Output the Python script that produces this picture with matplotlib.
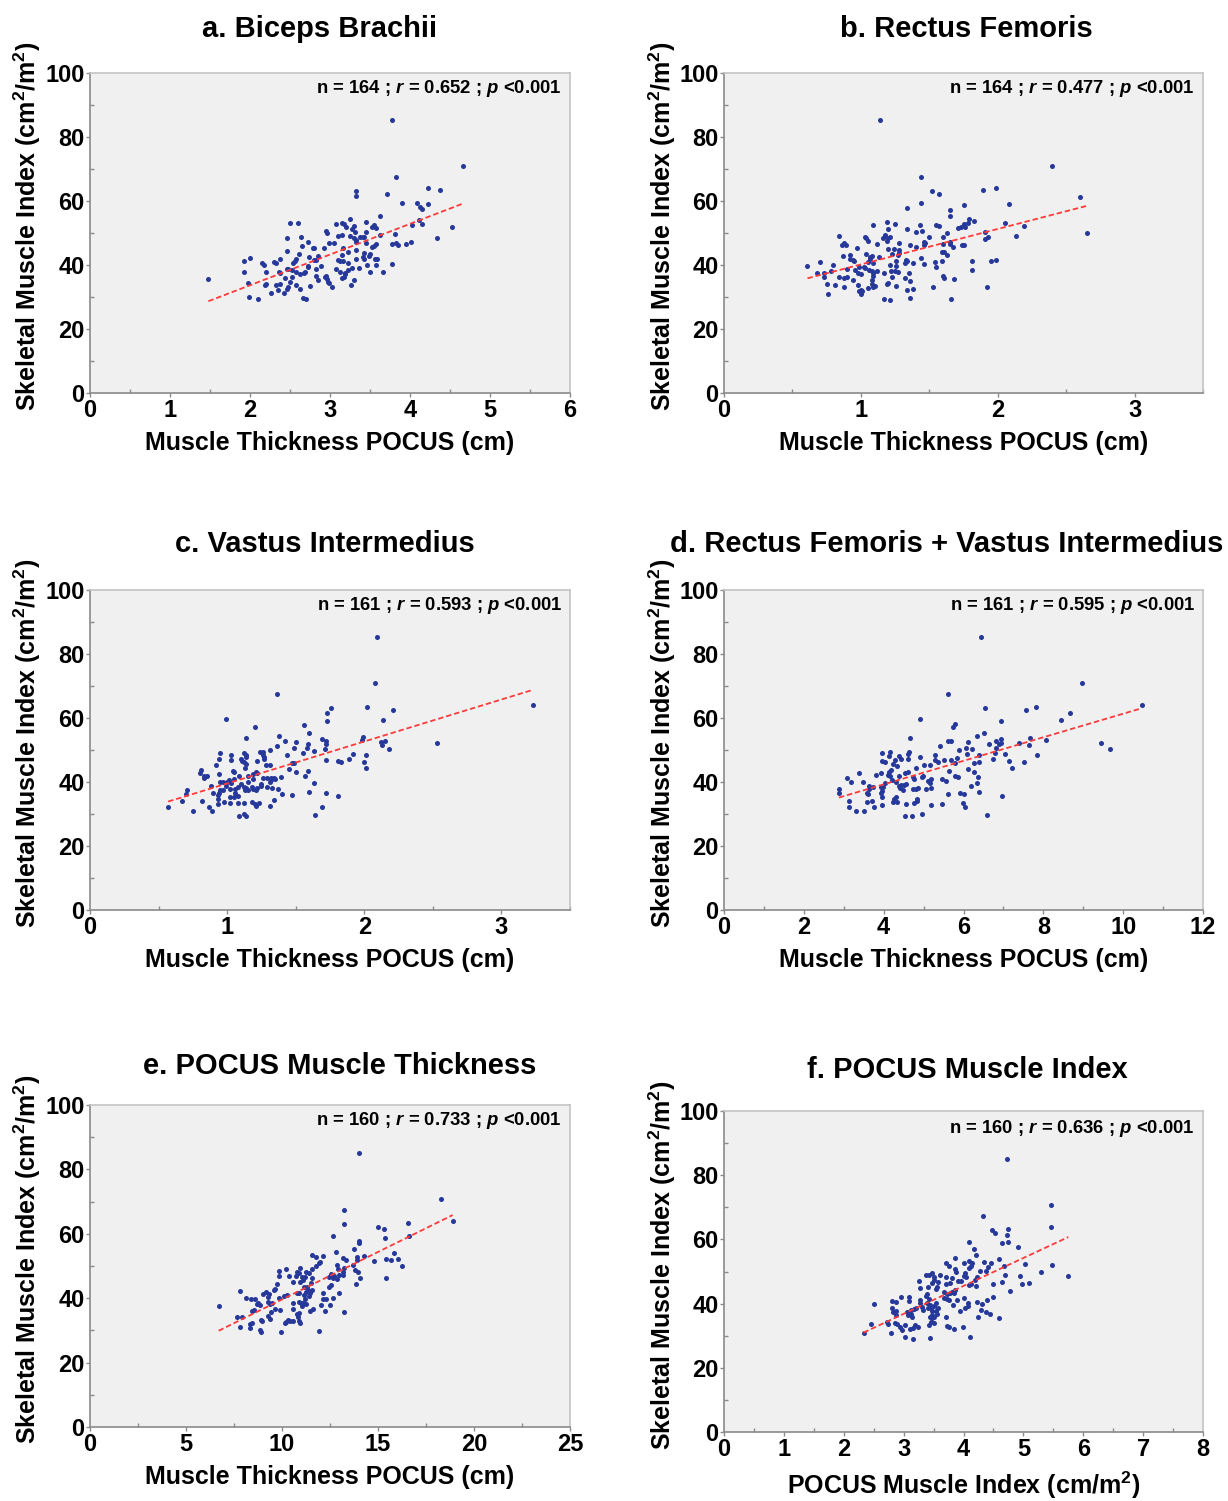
import numpy as np
import matplotlib
matplotlib.use("Agg")
import matplotlib.pyplot as plt
from matplotlib.ticker import MultipleLocator

plt.rcParams['font.family'] = 'Liberation Sans'
plt.rcParams['font.weight'] = 'bold'
plt.rcParams['mathtext.fontset'] = 'custom'
plt.rcParams['mathtext.rm'] = 'Liberation Sans:bold'
plt.rcParams['mathtext.it'] = 'Liberation Sans:italic:bold'
plt.rcParams['mathtext.bf'] = 'Liberation Sans:bold'

# ---- data (x = POCUS measure, y = SMI) ----
a_pts = [(3.77, 85.3), (4.66, 71.0), (3.83, 67.5), (4.22, 64.0), (4.38, 63.4), (3.33, 63.2), (3.33, 61.6),
         (3.71, 62.3), (3.90, 59.5), (4.09, 59.3), (4.23, 59.1), (4.12, 58.0), (4.15, 57.4), (3.63, 55.4),
         (4.11, 54.0), (4.15, 52.8), (4.03, 52.4), (4.53, 52.0), (4.34, 48.5), (4.01, 47.3), (3.95, 46.5),
         (3.81, 49.6), (3.78, 46.5), (3.82, 47.0), (3.85, 46.3), (3.78, 40.3), (3.63, 49.4), (3.66, 37.9),
         (3.58, 51.6), (3.55, 52.6), (3.52, 51.9), (3.45, 53.5), (3.25, 54.5), (3.15, 53.2), (3.18, 52.8),
         (3.20, 52.0), (3.07, 52.8), (3.30, 52.3), (3.28, 51.2), (3.31, 50.2), (3.25, 49.2), (3.15, 49.4),
         (3.10, 49.1), (2.95, 50.6), (2.96, 49.9), (3.30, 48.3), (3.32, 47.8), (3.33, 47.3), (3.38, 48.9),
         (3.41, 48.6), (3.43, 48.7), (3.45, 50.4), (3.45, 46.8), (3.52, 45.5), (3.55, 46.0), (3.57, 46.6),
         (3.05, 47.0), (2.99, 46.8), (2.93, 45.4), (3.16, 45.2), (3.22, 44.2), (3.32, 44.7), (3.42, 43.6),
         (3.50, 43.4), (3.49, 42.8), (3.41, 42.6), (3.43, 41.9), (3.33, 41.8), (3.15, 43.0), (3.10, 41.6),
         (3.13, 41.2), (3.16, 41.1), (3.23, 40.7), (3.46, 40.0), (3.56, 41.8), (3.59, 41.8), (3.58, 40.0),
         (3.50, 37.7), (3.36, 39.0), (3.28, 39.2), (3.23, 38.4), (3.19, 37.6), (3.19, 37.2), (3.13, 37.8),
         (3.08, 38.7), (3.30, 35.3), (3.26, 33.6), (3.15, 36.0), (3.18, 36.4), (2.95, 36.7), (2.94, 36.2),
         (2.96, 35.7), (2.97, 34.7), (2.99, 34.3), (3.03, 33.0), (2.83, 36.7), (2.85, 35.2), (2.75, 33.4),
         (2.89, 39.6), (2.83, 38.9), (2.72, 39.8), (2.73, 39.4), (2.80, 41.6), (2.83, 41.6), (2.85, 42.9),
         (2.74, 42.6), (2.79, 45.4), (2.80, 45.2), (2.73, 47.1), (2.65, 46.0), (2.64, 48.8), (2.60, 53.1),
         (2.50, 53.0), (2.46, 48.4), (2.46, 44.5), (2.61, 43.3), (2.58, 41.8), (2.56, 41.2), (2.54, 40.5),
         (2.69, 37.7), (2.67, 37.4), (2.63, 37.2), (2.58, 37.8), (2.52, 38.5), (2.48, 38.6), (2.46, 38.6),
         (2.52, 36.4), (2.50, 34.8), (2.57, 33.7), (2.48, 33.2), (2.46, 32.5), (2.42, 31.2), (2.62, 32.4),
         (2.66, 29.8), (2.70, 29.5), (2.38, 41.9), (2.33, 40.5), (2.30, 41.0), (2.36, 37.8), (2.37, 37.4),
         (2.44, 36.0), (2.38, 34.2), (2.33, 33.7), (2.35, 32.2), (2.26, 31.2), (2.20, 37.9), (2.15, 40.5),
         (2.18, 40.0), (2.20, 34.1), (2.19, 33.6), (2.00, 42.3), (1.92, 41.1), (1.92, 37.7), (1.98, 34.3),
         (1.99, 30.1), (2.10, 29.3), (1.48, 35.6)]

b_pts = [(1.14, 85.3), (2.40, 71.0), (1.44, 67.4), (1.52, 63.0), (1.57, 62.2), (1.89, 63.4), (1.99, 64.0),
         (2.60, 61.4), (2.08, 59.2), (1.44, 59.3), (1.34, 57.7), (1.75, 58.7), (1.65, 57.2), (1.65, 55.2),
         (1.79, 54.5), (1.83, 53.9), (1.78, 53.1), (1.75, 52.7), (1.73, 51.9), (1.71, 51.5), (1.76, 51.9),
         (2.05, 53.0), (2.19, 52.1), (1.91, 50.3), (2.13, 49.1), (1.93, 48.7), (1.91, 48.2), (1.75, 46.4),
         (1.74, 46.2), (2.65, 50.1), (1.95, 41.4), (1.99, 41.6), (1.81, 41.1), (1.81, 38.4), (1.92, 33.2),
         (1.66, 29.5), (1.68, 35.6), (1.60, 36.7), (1.61, 36.0), (1.53, 33.0), (1.59, 41.2), (1.54, 40.8),
         (1.55, 39.5), (1.59, 44.2), (1.61, 44.0), (1.63, 43.1), (1.60, 46.7), (1.60, 48.8), (1.63, 49.9),
         (1.65, 47.1), (1.65, 46.6), (1.67, 45.7), (1.55, 52.4), (1.57, 52.2), (1.50, 48.8), (1.46, 47.3),
         (1.47, 46.8), (1.46, 46.1), (1.43, 52.6), (1.40, 50.2), (1.45, 50.5), (1.34, 51.1), (1.36, 46.1),
         (1.40, 45.7), (1.44, 42.2), (1.46, 40.2), (1.38, 40.7), (1.33, 41.6), (1.34, 41.1), (1.32, 40.7),
         (1.28, 46.8), (1.28, 44.7), (1.28, 43.9), (1.27, 43.1), (1.24, 45.0), (1.23, 43.3), (1.25, 52.8),
         (1.19, 53.4), (1.20, 51.4), (1.21, 48.9), (1.20, 48.4), (1.18, 49.4), (1.16, 48.5), (1.19, 47.5),
         (1.12, 46.7), (1.20, 45.1), (1.13, 42.4), (1.09, 52.6), (1.04, 48.3), (1.03, 48.9), (1.05, 47.6),
         (0.97, 45.4), (0.89, 46.2), (0.86, 46.4), (0.88, 46.8), (0.84, 49.2), (0.87, 42.8), (0.92, 43.0),
         (0.92, 41.8), (0.95, 41.2), (0.94, 41.6), (1.04, 43.4), (1.07, 42.6), (1.08, 42.8), (1.07, 41.9),
         (1.05, 40.8), (1.09, 40.5), (0.99, 39.5), (1.02, 39.5), (1.03, 39.0), (1.06, 38.4), (1.08, 38.1),
         (1.09, 37.4), (1.09, 36.7), (1.12, 38.2), (1.17, 37.6), (1.21, 40.0), (1.22, 38.0), (1.25, 38.1),
         (1.26, 39.8), (1.26, 41.1), (1.27, 37.7), (1.23, 36.4), (1.20, 34.4), (1.19, 34.0), (1.26, 33.4),
         (1.32, 35.8), (1.36, 35.0), (1.35, 37.6), (1.34, 32.1), (1.38, 32.5), (1.36, 29.8), (1.17, 29.3),
         (1.21, 29.1), (1.08, 35.3), (1.08, 34.2), (1.09, 33.0), (1.10, 33.4), (1.05, 32.8), (1.00, 32.1),
         (0.99, 32.0), (1.00, 30.9), (1.01, 32.0), (0.98, 33.6), (0.94, 35.2), (0.98, 37.6), (0.96, 38.4),
         (1.00, 37.1), (0.90, 38.7), (0.90, 36.3), (0.88, 35.9), (0.84, 36.2), (0.88, 33.1), (0.81, 33.7),
         (0.75, 34.0), (0.76, 31.0), (0.73, 37.4), (0.73, 36.4), (0.68, 37.6), (0.78, 38.2), (0.80, 40.0),
         (0.70, 40.9), (0.61, 39.8)]

c_pts = [(2.09, 85.4), (2.08, 71.0), (1.36, 67.6), (2.02, 63.4), (2.21, 62.4), (1.76, 63.2), (1.73, 61.6),
         (1.73, 59.0), (2.14, 59.4), (0.99, 59.6), (1.20, 57.3), (1.56, 57.9), (1.60, 55.4), (1.38, 54.5),
         (1.14, 53.8), (1.42, 52.8), (1.50, 52.6), (1.36, 51.4), (1.31, 50.1), (1.69, 53.3), (1.72, 52.8),
         (1.72, 51.9), (1.71, 50.3), (1.59, 51.9), (1.58, 50.7), (1.49, 50.5), (1.63, 49.6), (1.55, 49.0),
         (1.44, 48.5), (1.99, 54.0), (1.98, 53.1), (2.12, 52.4), (2.13, 51.5), (2.15, 52.9), (2.18, 50.2),
         (2.53, 52.3), (1.92, 48.8), (1.89, 47.3), (2.01, 48.4), (2.00, 46.4), (2.01, 44.5), (1.81, 46.6),
         (1.83, 46.2), (1.72, 46.9), (1.47, 45.8), (1.49, 45.8), (1.45, 44.2), (1.50, 43.2), (1.59, 43.5),
         (1.57, 41.9), (1.63, 39.6), (1.60, 37.0), (1.72, 36.6), (1.81, 35.7), (1.69, 32.2), (1.64, 29.7),
         (1.47, 36.0), (1.40, 36.3), (1.34, 34.4), (1.37, 37.7), (1.33, 38.0), (1.29, 38.5), (1.39, 41.5),
         (1.35, 40.8), (1.34, 41.3), (1.32, 40.6), (1.31, 40.0), (1.32, 41.1), (1.29, 41.2), (1.26, 41.1),
         (1.25, 39.3), (1.25, 38.9), (1.22, 38.0), (1.21, 37.5), (1.24, 49.3), (1.26, 49.3), (1.27, 47.9),
         (1.27, 47.2), (1.26, 48.5), (1.28, 45.3), (1.31, 45.3), (1.22, 46.6), (1.21, 43.0), (1.19, 42.5),
         (1.22, 42.7), (1.19, 41.0), (1.15, 41.9), (1.15, 40.1), (1.12, 49.2), (1.14, 48.4), (1.14, 47.9),
         (1.10, 47.1), (1.11, 46.7), (1.12, 46.3), (1.14, 45.6), (1.13, 44.5), (1.03, 48.3), (1.03, 46.9),
         (1.04, 43.4), (1.05, 43.1), (0.94, 47.2), (0.95, 49.0), (0.92, 45.2), (0.94, 42.6), (1.01, 40.6),
         (1.00, 39.9), (0.97, 40.0), (0.95, 40.1), (1.05, 41.0), (1.03, 39.6), (1.09, 41.9), (1.10, 39.5),
         (1.12, 38.5), (1.14, 38.0), (1.15, 37.5), (1.13, 37.5), (1.08, 38.4), (1.06, 37.8), (1.02, 37.8),
         (0.99, 38.8), (0.95, 37.6), (0.97, 37.4), (1.18, 38.5), (1.19, 37.8), (1.06, 36.6), (1.08, 35.5),
         (1.05, 35.3), (1.02, 35.3), (1.02, 33.5), (0.98, 33.9), (0.94, 36.5), (0.93, 36.0), (0.90, 36.6),
         (0.88, 38.6), (0.93, 34.6), (0.93, 33.0), (1.08, 33.4), (1.12, 33.4), (1.18, 33.8), (1.20, 33.0),
         (1.21, 32.6), (1.23, 33.3), (1.31, 32.6), (1.09, 29.5), (1.12, 30.0), (1.14, 29.3), (0.87, 32.1),
         (0.89, 31.0), (0.82, 34.1), (0.75, 31.0), (0.67, 34.2), (0.71, 37.5), (0.70, 36.4), (0.80, 42.9),
         (0.81, 43.6), (0.83, 42.0), (0.85, 42.0), (0.83, 41.1), (0.57, 32.3), (3.23, 64.0)]

d_pts = [(6.44, 85.4), (8.97, 71.0), (5.61, 67.6), (10.46, 64.1), (6.55, 63.1), (7.57, 62.4), (7.82, 63.4),
         (8.66, 61.6), (8.45, 59.4), (6.94, 59.1), (4.90, 59.6), (5.78, 58.0), (5.73, 57.3), (6.52, 55.4),
         (6.35, 54.5), (4.66, 53.8), (5.61, 52.9), (5.68, 52.8), (6.11, 52.6), (6.93, 53.3), (6.94, 52.1),
         (6.90, 51.8), (6.81, 52.9), (6.64, 51.9), (7.67, 53.9), (7.65, 51.5), (7.38, 52.3), (8.07, 53.2),
         (9.45, 52.3), (9.67, 50.2), (7.84, 48.4), (7.51, 46.4), (7.14, 46.6), (7.21, 44.5), (6.97, 35.7),
         (7.05, 48.8), (6.81, 50.5), (6.80, 49.1), (6.73, 47.3), (6.39, 48.5), (6.39, 46.2), (6.27, 45.9),
         (6.26, 43.2), (6.37, 41.7), (6.34, 39.6), (6.40, 37.0), (6.20, 38.8), (6.60, 29.8), (6.21, 50.4),
         (6.06, 50.7), (6.10, 48.9), (6.12, 44.2), (5.88, 50.1), (5.83, 47.5), (5.78, 45.8), (5.69, 47.0),
         (5.64, 43.5), (5.41, 51.4), (5.29, 48.5), (5.29, 46.9), (5.35, 46.4), (5.51, 46.9), (5.15, 45.3),
         (5.02, 45.3), (5.78, 42.0), (5.86, 41.5), (5.56, 40.3), (5.47, 41.0), (5.60, 36.2), (5.90, 36.5),
         (6.02, 36.3), (5.99, 33.4), (6.05, 32.2), (5.46, 33.1), (5.19, 32.7), (4.96, 30.0), (4.71, 29.4),
         (4.54, 29.5), (4.57, 33.0), (4.75, 33.4), (4.83, 34.6), (4.84, 34.2), (4.87, 38.2), (4.80, 37.7),
         (4.74, 37.7), (4.95, 41.5), (4.98, 41.9), (5.10, 40.2), (5.16, 39.8), (5.18, 41.0), (5.06, 37.8),
         (5.18, 38.0), (4.81, 44.4), (4.91, 47.7), (4.64, 49.4), (4.60, 48.7), (4.62, 47.1), (4.38, 48.1),
         (4.44, 47.2), (4.29, 46.9), (4.17, 49.4), (4.14, 48.2), (3.97, 49.2), (3.95, 46.6), (4.04, 46.4),
         (4.33, 45.1), (4.23, 45.6), (4.18, 43.8), (4.14, 43.2), (4.10, 42.2), (4.16, 42.0), (3.93, 42.9),
         (3.82, 42.2), (4.38, 42.0), (4.54, 42.7), (4.60, 43.2), (4.74, 41.7), (4.75, 40.8), (4.57, 39.4),
         (4.50, 39.0), (4.44, 39.2), (4.38, 38.6), (4.41, 38.0), (4.31, 40.1), (4.20, 40.6), (4.03, 39.6),
         (3.99, 38.3), (3.93, 38.5), (4.49, 37.5), (4.30, 35.4), (4.26, 34.6), (4.33, 33.6), (4.23, 33.6),
         (3.96, 37.1), (3.93, 36.7), (3.96, 35.4), (3.97, 32.9), (3.73, 38.3), (3.63, 38.9), (3.64, 37.8),
         (3.58, 36.7), (3.62, 36.3), (3.71, 34.2), (3.58, 33.9), (3.77, 32.1), (3.48, 40.1), (3.37, 42.9),
         (3.18, 39.9), (3.07, 41.1), (2.88, 37.7), (2.88, 36.5), (3.12, 34.0), (3.12, 32.3), (3.30, 31.0),
         (3.50, 31.0)]

e_pts = [(13.99, 85.2), (18.26, 70.9), (18.89, 64.1), (13.25, 67.4), (13.21, 62.9), (15.00, 62.2),
         (15.30, 61.4), (16.58, 63.3), (15.38, 58.8), (16.60, 59.2), (12.67, 59.3), (13.99, 57.8),
         (14.01, 57.0), (13.75, 55.3), (12.80, 54.5), (14.29, 53.1), (13.89, 52.7), (13.92, 51.9),
         (13.19, 52.6), (13.32, 51.9), (15.85, 53.9), (16.02, 52.2), (15.68, 51.9), (15.42, 52.3),
         (14.77, 51.4), (16.23, 50.1), (15.42, 46.4), (11.55, 53.5), (11.79, 52.9), (12.12, 53.2),
         (11.96, 51.3), (11.93, 50.8), (11.77, 50.0), (12.85, 50.2), (12.90, 49.0), (13.72, 50.3),
         (13.80, 48.8), (13.98, 48.2), (14.04, 46.2), (13.84, 44.4), (13.25, 49.4), (13.19, 48.2),
         (13.16, 47.1), (12.99, 47.2), (12.73, 47.0), (12.55, 47.5), (12.47, 46.7), (12.67, 46.3),
         (12.85, 46.1), (12.53, 44.1), (12.47, 43.6), (12.95, 41.7), (12.67, 40.2), (13.25, 35.7),
         (12.12, 41.7), (12.12, 39.6), (12.29, 39.9), (12.03, 37.9), (12.26, 36.1), (12.48, 37.9),
         (11.91, 29.7), (11.55, 49.0), (11.42, 47.7), (11.25, 48.0), (11.20, 46.7), (11.02, 46.5),
         (11.56, 46.2), (11.51, 44.6), (10.94, 49.4), (10.89, 47.7), (10.76, 48.2), (10.73, 47.0),
         (10.59, 45.1), (10.96, 45.1), (11.09, 45.6), (11.13, 43.6), (11.30, 43.6), (11.37, 42.7),
         (11.25, 42.0), (11.15, 40.9), (11.20, 39.9), (11.11, 38.4), (11.25, 38.2), (11.46, 41.5),
         (11.55, 42.6), (11.41, 40.6), (10.89, 41.7), (10.80, 41.5), (10.90, 38.9), (10.99, 38.4),
         (11.02, 37.7), (11.44, 36.0), (11.60, 36.8), (10.89, 35.5), (10.76, 35.0), (10.82, 34.1),
         (10.87, 33.0), (10.94, 32.2), (10.56, 38.6), (10.56, 36.5), (10.38, 46.9), (10.19, 49.2),
         (9.86, 48.6), (9.86, 47.0), (9.72, 44.4), (9.63, 43.0), (9.58, 42.5), (10.28, 41.0),
         (10.10, 40.8), (9.86, 40.2), (9.90, 36.4), (10.31, 33.2), (10.42, 33.0), (10.57, 33.0),
         (10.21, 32.7), (10.17, 32.4), (9.93, 29.5), (9.34, 41.2), (9.27, 40.5), (9.03, 41.2),
         (9.17, 41.9), (9.29, 38.8), (9.36, 38.1), (9.46, 38.4), (9.62, 36.5), (9.41, 35.8),
         (9.27, 34.6), (9.38, 33.4), (8.89, 33.2), (8.96, 32.9), (8.85, 30.1), (8.92, 29.6),
         (8.77, 38.4), (8.85, 37.9), (8.72, 38.2), (8.56, 36.3), (8.45, 36.1), (8.14, 40.1),
         (8.39, 39.9), (8.61, 39.9), (7.81, 42.1), (8.42, 32.2), (8.33, 32.0), (8.32, 30.8),
         (7.92, 34.1), (7.67, 34.1), (7.80, 31.2), (6.70, 37.7)]

f_pts = [(4.73, 85.2), (5.46, 70.8), (5.46, 64.0), (4.33, 67.4), (4.47, 62.9), (4.53, 62.1), (4.75, 63.3),
         (4.72, 61.3), (4.75, 59.1), (4.65, 58.8), (4.91, 57.7), (4.10, 59.3), (4.18, 57.1), (4.21, 55.1),
         (3.86, 54.3), (4.10, 53.4), (4.14, 52.8), (4.12, 51.7), (4.09, 51.1), (4.00, 52.6), (3.71, 52.5),
         (3.76, 51.7), (4.35, 52.9), (4.46, 52.6), (4.41, 51.3), (4.37, 50.3), (4.59, 53.8), (4.68, 51.7),
         (4.70, 48.9), (4.65, 46.8), (5.03, 52.2), (5.47, 52.0), (5.30, 49.9), (4.94, 48.6), (4.98, 46.1),
         (5.09, 46.3), (4.77, 44.0), (4.49, 46.1), (4.22, 48.4), (4.20, 47.4), (4.21, 45.6), (4.27, 50.3),
         (4.02, 49.4), (4.00, 48.6), (4.04, 48.2), (4.09, 45.8), (4.12, 46.1), (3.95, 47.1), (3.90, 47.1),
         (3.86, 50.9), (3.87, 49.9), (3.80, 48.1), (3.77, 46.3), (3.61, 49.0), (3.70, 48.2), (3.50, 48.2),
         (3.50, 47.2), (3.48, 46.5), (3.42, 48.9), (3.38, 48.9), (3.48, 49.4), (3.40, 45.1), (3.28, 45.0),
         (3.26, 46.9), (3.57, 46.8), (3.56, 45.3), (3.54, 44.6), (3.71, 46.1), (3.67, 43.6), (3.72, 43.0),
         (3.77, 43.2), (3.81, 43.7), (3.84, 43.4), (3.86, 44.2), (3.89, 41.1), (3.67, 41.9), (3.72, 41.4),
         (3.75, 41.1), (4.00, 41.9), (4.08, 40.1), (3.83, 39.5), (4.22, 40.6), (4.31, 39.8), (4.39, 41.1),
         (4.49, 42.2), (4.30, 38.0), (4.37, 37.5), (4.44, 36.8), (4.25, 35.9), (4.59, 35.5), (4.07, 39.3),
         (4.03, 38.5), (3.94, 37.6), (3.70, 35.9), (3.72, 33.1), (3.75, 32.8), (3.84, 32.1), (3.99, 32.8),
         (4.11, 29.5), (3.54, 40.1), (3.50, 39.3), (3.46, 38.5), (3.57, 38.5), (3.54, 37.8), (3.56, 36.9),
         (3.51, 35.9), (3.39, 43.0), (3.37, 42.5), (3.42, 41.5), (3.39, 40.1), (3.44, 39.6), (3.40, 38.5),
         (3.47, 37.8), (3.47, 36.5), (3.44, 35.7), (3.47, 35.4), (3.45, 34.4), (3.50, 34.1), (3.42, 33.3),
         (3.44, 29.3), (3.27, 41.1), (3.28, 40.1), (3.30, 39.0), (3.32, 38.0), (3.21, 38.5), (3.17, 38.3),
         (3.12, 38.0), (3.08, 37.5), (3.05, 37.5), (3.07, 36.5), (3.12, 36.7), (3.14, 35.9), (3.19, 33.3),
         (3.24, 32.8), (3.09, 42.2), (3.09, 40.9), (2.95, 42.2), (2.87, 40.4), (2.81, 40.8), (2.80, 38.5),
         (2.82, 37.5), (2.87, 37.8), (2.87, 36.3), (2.72, 34.4), (2.74, 33.6), (2.86, 34.1), (2.89, 33.6),
         (2.94, 32.8), (2.97, 31.8), (3.03, 33.3), (3.11, 32.1), (3.15, 32.5), (3.03, 29.7), (3.15, 29.0),
         (2.79, 30.9), (2.50, 39.8), (2.46, 33.7), (2.33, 30.9), (5.75, 48.7)]

titles = ['a. Biceps Brachii', 'b. Rectus Femoris', 'c. Vastus Intermedius',
          'd. Rectus Femoris + Vastus Intermedius', 'e. POCUS Muscle Thickness', 'f. POCUS Muscle Index']
n_values = [164, 164, 161, 161, 160, 160]
r_values = ['0.652', '0.477', '0.593', '0.595', '0.733', '0.636']
p_text = '<0.001'
x_labels = ['Muscle Thickness POCUS (cm)'] * 5 + ['POCUS Muscle Index (cm/m$^{2}$)']
y_label = 'Skeletal Muscle Index (cm$^{2}$/m$^{2}$)'
x_max = [6, 3.5, 3.5, 12, 25, 8]
x_major = [1, 1, 1, 2, 5, 1]
all_pts = [a_pts, b_pts, c_pts, d_pts, e_pts, f_pts]

# ---- layout (pixel boxes of the six axes: left, top, right, bottom) ----
W, H = 1228, 1501
boxes = [(90, 73, 570, 393), (724, 73, 1203, 393),
         (90, 590, 570, 910), (724, 590, 1203, 910),
         (90, 1105, 570, 1427), (724, 1111, 1203, 1432)]
title_pos = [(320, 37), (966, 37), (325, 552), (947, 552), (340, 1074), (967, 1078)]
stat_y = [0.953, 0.953, 0.953, 0.953, 0.953, 0.947]

dot_color = '#26389a'
line_color = '#ff3a3a'
grey = '#8a8a8a'

fig = plt.figure(figsize=(W / 100, H / 100), dpi=100)

for i, pts in enumerate(all_pts):
    l, t, r, b = boxes[i]
    ax = fig.add_axes([l / W, 1 - b / H, (r - l) / W, (b - t) / H])
    ax.set_facecolor('#f0f0f0')

    x, y = np.array(pts).T
    ax.scatter(x, y, s=13, color=dot_color, linewidths=0, zorder=3)
    k, c0 = np.polyfit(x, y, 1)
    xs = np.array([x.min(), x.max()])
    ax.plot(xs, k * xs + c0, color=line_color, lw=1.3, ls=(0, (3, 1.6)), zorder=4)

    ax.set_xlim(0, x_max[i])
    ax.set_ylim(0, 100)
    ax.xaxis.set_major_locator(MultipleLocator(x_major[i]))
    ax.xaxis.set_minor_locator(MultipleLocator(x_major[i] / 2))
    ax.yaxis.set_major_locator(MultipleLocator(20))
    ax.yaxis.set_minor_locator(MultipleLocator(10))
    ax.tick_params(which='major', direction='out', length=3, width=1, color=grey,
                   labelsize=17, pad=1)
    ax.tick_params(which='minor', direction='in', length=3, width=1, color=grey)

    for side in ['left', 'bottom']:
        ax.spines[side].set_color(grey)
        ax.spines[side].set_linewidth(1.2)
    for side in ['top', 'right']:
        ax.spines[side].set_color('#c4c4c4')
        ax.spines[side].set_linewidth(1.2)

    ax.set_xlabel(x_labels[i], fontsize=18, fontweight='bold')
    ax.xaxis.set_label_coords(0.5, -0.118)
    ax.set_ylabel(y_label, fontsize=18, fontweight='bold')
    ax.yaxis.set_label_coords(-0.097, 0.52)

    ax.text(0.983, stat_y[i], f'n = {n_values[i]} ; $r$ = {r_values[i]} ; $p$ {p_text}',
            transform=ax.transAxes, ha='right', va='center', fontsize=13.3, fontweight='bold')

    tx, ty = title_pos[i]
    fig.text(tx / W, 1 - ty / H, titles[i], ha='center', va='baseline',
             fontsize=21, fontweight='bold')

fig.savefig('out.png', dpi=100, facecolor='white')
